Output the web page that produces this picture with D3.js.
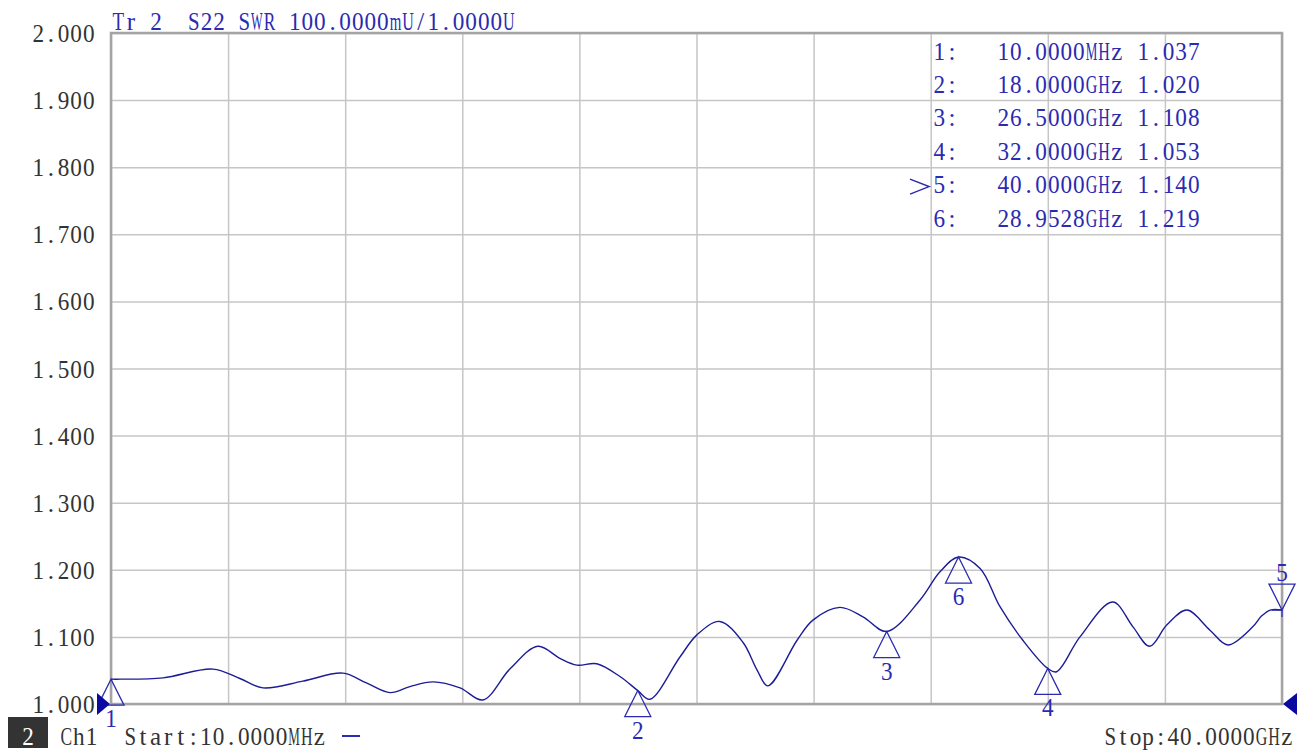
<!DOCTYPE html>
<html>
<head>
<meta charset="utf-8">
<script src="https://cdn.jsdelivr.net/npm/d3@7"></script>
<style>
  body { margin: 0; background: #fff; }
  svg { display: block; }
  text { font-family: "Liberation Serif", "DejaVu Serif", serif; white-space: pre; }
</style>
</head>
<body>
<div id="chart"></div>
<script>
// trace (frequency in GHz, SWR)
var freqGHz = [0.01, 0.35, 1.79, 3.49, 4.41, 5.20, 6.56, 7.93, 8.75, 9.54, 10.22, 11.01, 11.93, 12.71,
  13.63, 14.59, 15.34, 15.92, 16.60, 17.39, 18.00, 18.41, 19.44, 20.02, 20.80, 21.59, 22.07, 22.44,
  23.44, 23.98, 24.90, 25.69, 26.50, 27.64, 28.32, 28.95, 29.69, 30.37, 31.15, 32.00, 32.30, 33.10,
  34.22, 34.91, 35.48, 36.07, 36.75, 37.54, 38.15, 39.00, 39.30, 39.60, 40.00];
var swrValues = [1.037, 1.037, 1.039, 1.052, 1.038, 1.024, 1.034, 1.046, 1.031, 1.017, 1.026, 1.033, 1.024, 1.006,
  1.052, 1.086, 1.068, 1.058, 1.060, 1.041, 1.020, 1.007, 1.070, 1.103, 1.123, 1.092, 1.051, 1.027,
  1.095, 1.125, 1.144, 1.130, 1.108, 1.155, 1.197, 1.219, 1.202, 1.145, 1.095, 1.053, 1.048, 1.100,
  1.152, 1.115, 1.086, 1.118, 1.140, 1.110, 1.088, 1.115, 1.131, 1.140, 1.140];

var yTickValues = [1.0, 1.1, 1.2, 1.3, 1.4, 1.5, 1.6, 1.7, 1.8, 1.9, 2.0];

var markerIds = [1, 2, 3, 4, 5, 6];
var markerFreqGHz = [0.01, 18, 26.5, 32, 40, 28.9528];
var markerSwr = [1.037, 1.020, 1.108, 1.053, 1.140, 1.219];
var markerFreqLabels = ["10.0000MHz", "18.0000GHz", "26.5000GHz", "32.0000GHz", "40.0000GHz", "28.9528GHz"];
var activeMarker = 5;

var titleText = "Tr 2  S22 SWR 100.0000mU/1.0000U";
var startText = "Start:10.0000MHz";
var stopText = "Stop:40.0000GHz";

var W = 1310, H = 756;
var pLeft = 111, pRight = 1282, pTop = 33, pBottom = 704;
var pitch = 12.6;           // fixed character pitch of the instrument font
var blue = "#2a2ab2", trace = "#1c1c96", grey = "#333";

var svg = d3.select("#chart").append("svg")
  .attr("width", W).attr("height", H);

var x = d3.scaleLinear().domain([0.01, 40]).range([pLeft, pRight]);
var y = d3.scaleLinear().domain([1, 2]).range([pBottom, pTop]);

// lay a string out on the fixed pitch, one cell per character
function fillCells(t, str, x0) {
  t.text(null).attr("text-anchor", "middle");
  str.split("").forEach(function(ch, i){
    var ts = t.append("tspan").attr("x", x0 + (i + 0.5) * pitch).text(ch);
    var w = ts.node().getComputedTextLength();
    if (w > pitch * 0.92) ts.attr("textLength", pitch * 0.92).attr("lengthAdjust", "spacingAndGlyphs");
  });
  return t;
}

function mono(g, str, px, py, anchor, color) {
  var n = str.length;
  var x0 = anchor === "end" ? px - n * pitch : anchor === "middle" ? px - n * pitch / 2 : px;
  var t = g.append("text")
    .attr("y", py)
    .style("font-size", "25px")
    .style("fill", color || grey);
  return fillCells(t, str, x0);
}

// grid: 10 divisions across, one line per tick up
var xDiv = d3.range(11).map(function(i){ return 0.01 + i * (40 - 0.01) / 10; });

svg.append("g")
  .attr("transform", "translate(0," + pBottom + ")")
  .call(d3.axisBottom(x).tickValues(xDiv).tickSize(-(pBottom - pTop)).tickFormat(""))
  .call(function(g){ g.select(".domain").remove(); })
  .selectAll("line").attr("stroke", "#c6c6c6").style("stroke-width", 1.5);

svg.append("g")
  .attr("transform", "translate(" + pLeft + ",0)")
  .call(d3.axisLeft(y).tickValues(yTickValues).tickSize(-(pRight - pLeft)).tickFormat(""))
  .call(function(g){ g.select(".domain").remove(); })
  .selectAll("line").attr("stroke", "#c6c6c6").style("stroke-width", 1.5);

// y labels
var fmt = d3.format(".3f");
var yAxis = svg.append("g")
  .attr("transform", "translate(" + pLeft + ",0)")
  .call(d3.axisLeft(y).tickValues(yTickValues).tickSize(0).tickPadding(16).tickFormat(fmt));
yAxis.select(".domain").remove();
yAxis.attr("font-family", null).attr("font-size", null);
yAxis.selectAll("text")
  .attr("dy", "0.34em")
  .style("font-size", "25px")
  .style("fill", grey)
  .each(function(d){
    var s = fmt(d);
    fillCells(d3.select(this), s, -16 - s.length * pitch);
  });

// frame
svg.append("rect")
  .attr("x", pLeft).attr("y", pTop)
  .attr("width", pRight - pLeft).attr("height", pBottom - pTop)
  .attr("fill", "none").attr("stroke", "#a4a4a4").style("stroke-width", 2.5);

// trace
var pts = freqGHz.map(function(f, i){ return {f: f, v: swrValues[i]}; });
svg.append("path")
  .datum(pts)
  .attr("d", d3.line().curve(d3.curveCatmullRom.alpha(0.5))
    .x(function(d){ return x(d.f); })
    .y(function(d){ return y(d.v); }))
  .attr("fill", "none")
  .attr("stroke", trace)
  .style("stroke-width", 1.4);

// markers
var tri = 13, triH = 26;
markerIds.forEach(function(id, i){
  var mx = x(markerFreqGHz[i]), my = y(markerSwr[i]);
  var g = svg.append("g");
  if (id === activeMarker) {
    g.append("path")
      .attr("d", "M" + mx + "," + my + "L" + (mx - tri) + "," + (my - triH) + "L" + (mx + tri) + "," + (my - triH) + "Z")
      .attr("fill", "none").attr("stroke", blue).style("stroke-width", 1.3);
    g.append("path")
      .attr("d", "M" + mx + "," + my + "v7M" + (mx - 10) + "," + my + "H" + mx)
      .attr("stroke", blue).style("stroke-width", 1.2);
    mono(g, String(id), mx, my - triH - 3, "middle", blue);
  } else {
    g.append("path")
      .attr("d", "M" + mx + "," + my + "L" + (mx - tri) + "," + (my + triH) + "L" + (mx + tri) + "," + (my + triH) + "Z")
      .attr("fill", "none").attr("stroke", blue).style("stroke-width", 1.3);
    mono(g, String(id), mx, my + triH + 22, "middle", blue);
  }
});

// reference level arrows at both ends of the 1.000 line
svg.append("path")
  .attr("d", "M" + (pLeft - 1) + "," + y(1) + "l-13,-11v22Z")
  .attr("fill", "#0a0aa0");
svg.append("path")
  .attr("d", "M" + (pRight + 1) + "," + y(1) + "l14,-11v22Z")
  .attr("fill", "#0a0aa0");

// title
mono(svg, titleText, 112, 30, "start", blue);

// marker table
var table = svg.append("g");
markerIds.forEach(function(id, i){
  var by = 59.5 + i * 33.4;
  mono(table, id + ":", 933, by, "start", blue);
  mono(table, markerFreqLabels[i], 997, by, "start", blue);
  mono(table, fmt(markerSwr[i]), 1137, by, "start", blue);
  if (id === activeMarker) {
    table.append("path")
      .attr("d", "M910," + (by - 14) + "L929," + (by - 6.5) + "L910," + (by + 1))
      .attr("fill", "none").attr("stroke", blue).style("stroke-width", 1.5);
  }
});

// status line
svg.append("rect")
  .attr("x", 8).attr("y", 717).attr("width", 40).attr("height", 31)
  .attr("fill", "#333");
mono(svg, "2", 28, 745, "middle", "#fff");
mono(svg, "Ch1", 60, 745, "start", grey);
mono(svg, startText, 124, 745, "start", grey);
svg.append("line")
  .attr("x1", 342).attr("x2", 360).attr("y1", 736).attr("y2", 736)
  .attr("stroke", blue).style("stroke-width", 2);
mono(svg, stopText, 1293, 745, "end", grey);
</script>
</body>
</html>
